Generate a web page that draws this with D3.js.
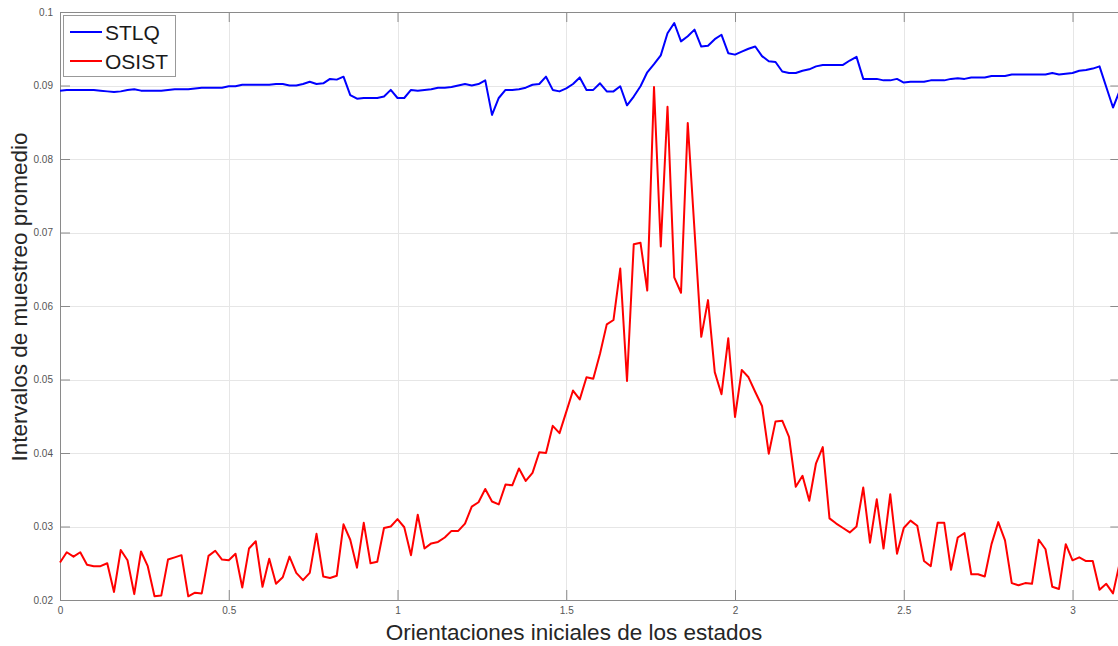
<!DOCTYPE html>
<html>
<head>
<meta charset="utf-8">
<script src="https://cdn.jsdelivr.net/npm/d3@7/dist/d3.min.js"></script>
<style>
  html, body { margin: 0; padding: 0; background: #fff; }
  svg { display: block; font-family: "Liberation Sans", Arial, Helvetica, sans-serif; }
</style>
</head>
<body>
<svg id="chart" width="1118" height="646"></svg>
<script>
// Initial orientation sweep: 0 to 3.14 rad in steps of 0.02 rad
const angleStep = 0.02;

// Average sampling interval per initial orientation
const stlq = [
  0.0893, 0.0894, 0.0894, 0.0894, 0.0894, 0.0894, 0.0893, 0.0892, 0.0891, 0.0892,
  0.0894, 0.0895, 0.0893, 0.0893, 0.0893, 0.0893, 0.0894, 0.0895, 0.0895, 0.0895,
  0.0896, 0.0897, 0.0897, 0.0897, 0.0897, 0.0899, 0.0899, 0.0901, 0.0901, 0.0901,
  0.0901, 0.0901, 0.0902, 0.0902, 0.0900, 0.0900, 0.0902, 0.0905, 0.0902, 0.0903,
  0.0909, 0.0908, 0.0912, 0.0887, 0.0882, 0.0883, 0.0883, 0.0883, 0.0885, 0.0894,
  0.0883, 0.0883, 0.0894, 0.0893, 0.0894, 0.0895, 0.0897, 0.0897, 0.0898, 0.0900,
  0.0902, 0.0900, 0.0902, 0.0907, 0.0860, 0.0883, 0.0894, 0.0894, 0.0895, 0.0897,
  0.0901, 0.0902, 0.0912, 0.0894, 0.0892, 0.0896, 0.0902, 0.0911, 0.0894, 0.0894,
  0.0903, 0.0892, 0.0892, 0.0899, 0.0873, 0.0885, 0.0899, 0.0918, 0.0929, 0.0941,
  0.0971, 0.0985, 0.0960, 0.0967, 0.0976, 0.0953, 0.0954, 0.0963, 0.0969, 0.0944,
  0.0942, 0.0946, 0.0950, 0.0953, 0.0940, 0.0933, 0.0932, 0.0919, 0.0917, 0.0917,
  0.0920, 0.0922, 0.0926, 0.0928, 0.0928, 0.0928, 0.0928, 0.0934, 0.0939, 0.0909,
  0.0909, 0.0909, 0.0907, 0.0907, 0.0909, 0.0904, 0.0905, 0.0905, 0.0905, 0.0907,
  0.0907, 0.0907, 0.0909, 0.0910, 0.0909, 0.0911, 0.0911, 0.0911, 0.0913, 0.0913,
  0.0913, 0.0915, 0.0915, 0.0915, 0.0915, 0.0915, 0.0915, 0.0917, 0.0915, 0.0916,
  0.0917, 0.0920, 0.0921, 0.0923, 0.0926, 0.0898, 0.0870, 0.0893
];

const osist = [
  0.0251, 0.0265, 0.0259, 0.0265, 0.0248, 0.0246, 0.0246, 0.0250, 0.0211, 0.0268,
  0.0254, 0.0208, 0.0266, 0.0246, 0.0205, 0.0206, 0.0255, 0.0258, 0.0261, 0.0205,
  0.0210, 0.0209, 0.0260, 0.0267, 0.0255, 0.0254, 0.0263, 0.0217, 0.0270, 0.0280,
  0.0218, 0.0256, 0.0222, 0.0231, 0.0259, 0.0237, 0.0227, 0.0237, 0.0290, 0.0232,
  0.0230, 0.0233, 0.0303, 0.0282, 0.0244, 0.0305, 0.0250, 0.0252, 0.0298, 0.0300,
  0.0310, 0.0299, 0.0261, 0.0316, 0.0270, 0.0277, 0.0279, 0.0285, 0.0294, 0.0294,
  0.0304, 0.0327, 0.0333, 0.0351, 0.0334, 0.0330, 0.0357, 0.0356, 0.0379, 0.0362,
  0.0373, 0.0401, 0.0400, 0.0437, 0.0427, 0.0456, 0.0485, 0.0473, 0.0503, 0.0501,
  0.0535, 0.0575, 0.0581, 0.0651, 0.0498, 0.0684, 0.0686, 0.0621, 0.0898, 0.0681,
  0.0871, 0.0639, 0.0618, 0.0849, 0.0703, 0.0558, 0.0608, 0.0510, 0.0480, 0.0556,
  0.0449, 0.0513, 0.0503, 0.0483, 0.0464, 0.0399, 0.0443, 0.0444, 0.0422, 0.0354,
  0.0369, 0.0335, 0.0386, 0.0408, 0.0311, 0.0304, 0.0298, 0.0292, 0.0300, 0.0353,
  0.0278, 0.0337, 0.0270, 0.0344, 0.0263, 0.0298, 0.0308, 0.0301, 0.0253, 0.0246,
  0.0305, 0.0305, 0.0241, 0.0285, 0.0291, 0.0235, 0.0235, 0.0232, 0.0276, 0.0306,
  0.0281, 0.0223, 0.0220, 0.0223, 0.0222, 0.0282, 0.0269, 0.0218, 0.0215, 0.0276,
  0.0254, 0.0258, 0.0253, 0.0253, 0.0214, 0.0222, 0.0209, 0.0251
];

const xTicks = [0, 0.5, 1, 1.5, 2, 2.5, 3];
const xTickLabels = ["0", "0.5", "1", "1.5", "2", "2.5", "3"];
const yTicks = [0.02, 0.03, 0.04, 0.05, 0.06, 0.07, 0.08, 0.09, 0.1];
const yTickLabels = ["0.02", "0.03", "0.04", "0.05", "0.06", "0.07", "0.08", "0.09", "0.1"];

const seriesNames = ["STLQ", "OSIST"];
const seriesColors = ["#0000ff", "#ff0000"];

const svg = d3.select("#chart");
const plotLeft = 60, plotRight = 1120.3, plotTop = 12, plotBottom = 600;

const x = d3.scaleLinear().domain([0, Math.PI]).range([plotLeft, plotRight]);
const y = d3.scaleLinear().domain([0.02, 0.1]).range([plotBottom, plotTop]);

svg.append("rect").attr("width", 1118).attr("height", 646).attr("fill", "#fff");

// Grid
const grid = svg.append("g").attr("stroke", "#e6e6e6").attr("stroke-width", 1);
grid.selectAll("line.gx").data(xTicks.slice(1)).join("line")
  .attr("x1", d => Math.round(x(d)) + 0.5).attr("x2", d => Math.round(x(d)) + 0.5)
  .attr("y1", plotTop).attr("y2", plotBottom);
grid.selectAll("line.gy").data(yTicks.slice(1, -1)).join("line")
  .attr("y1", d => Math.round(y(d)) + 0.5).attr("y2", d => Math.round(y(d)) + 0.5)
  .attr("x1", plotLeft).attr("x2", plotRight);

const axisColor = "#8a8a8a";
const tickColor = "#555";

function styleAxis(g) {
  g.selectAll("path.domain").attr("stroke", axisColor);
  g.selectAll(".tick line").attr("stroke", axisColor);
  g.selectAll(".tick text").attr("fill", tickColor).attr("font-size", 10);
}

// Bottom and left axes with labels, ticks pointing inward
svg.append("g").attr("transform", `translate(0,${plotBottom})`)
  .call(d3.axisBottom(x).tickValues(xTicks).tickFormat((d, i) => xTickLabels[i])
    .tickSize(-10).tickSizeOuter(0).tickPadding(7))
  .call(styleAxis);

svg.append("g").attr("transform", `translate(${plotLeft},0)`)
  .call(d3.axisLeft(y).tickValues(yTicks).tickFormat((d, i) => yTickLabels[i])
    .tickSize(-10).tickSizeOuter(0).tickPadding(7))
  .call(styleAxis);

// Top and right box edges with inward ticks
svg.append("g").attr("transform", `translate(0,${plotTop})`)
  .call(d3.axisTop(x).tickValues(xTicks).tickFormat("").tickSize(-10).tickSizeOuter(0))
  .call(styleAxis);

svg.append("g").attr("transform", `translate(${plotRight},0)`)
  .call(d3.axisRight(y).tickValues(yTicks).tickFormat("").tickSize(-10).tickSizeOuter(0))
  .call(styleAxis);

// Series lines
const line = d3.line().x((d, i) => x(i * angleStep)).y(d => y(d));
[stlq, osist].forEach((values, k) => {
  svg.append("path").datum(values)
    .attr("fill", "none")
    .attr("stroke", seriesColors[k])
    .attr("stroke-width", 2)
    .attr("stroke-linejoin", "round")
    .attr("d", line);
});

// Axis titles
svg.append("text")
  .attr("x", 574).attr("y", 640)
  .attr("text-anchor", "middle")
  .attr("font-size", 22.5)
  .attr("fill", "#262626")
  .text("Orientaciones iniciales de los estados");

svg.append("text")
  .attr("transform", "translate(27,297) rotate(-90)")
  .attr("text-anchor", "middle")
  .attr("font-size", 22.5)
  .attr("fill", "#262626")
  .text("Intervalos de muestreo promedio");

// Legend
const legend = svg.append("g");
legend.append("rect")
  .attr("x", 63.5).attr("y", 15.5).attr("width", 112).attr("height", 61)
  .attr("fill", "#fff").attr("stroke", "#999").attr("stroke-width", 1);
seriesNames.forEach((name, k) => {
  const cy = 32 + k * 29;
  legend.append("line")
    .attr("x1", 70).attr("x2", 102).attr("y1", cy).attr("y2", cy)
    .attr("stroke", seriesColors[k]).attr("stroke-width", 2);
  legend.append("text")
    .attr("x", 105).attr("y", cy + 8)
    .attr("font-size", 21)
    .attr("fill", "#1a1a1a")
    .text(name);
});
</script>
</body>
</html>
